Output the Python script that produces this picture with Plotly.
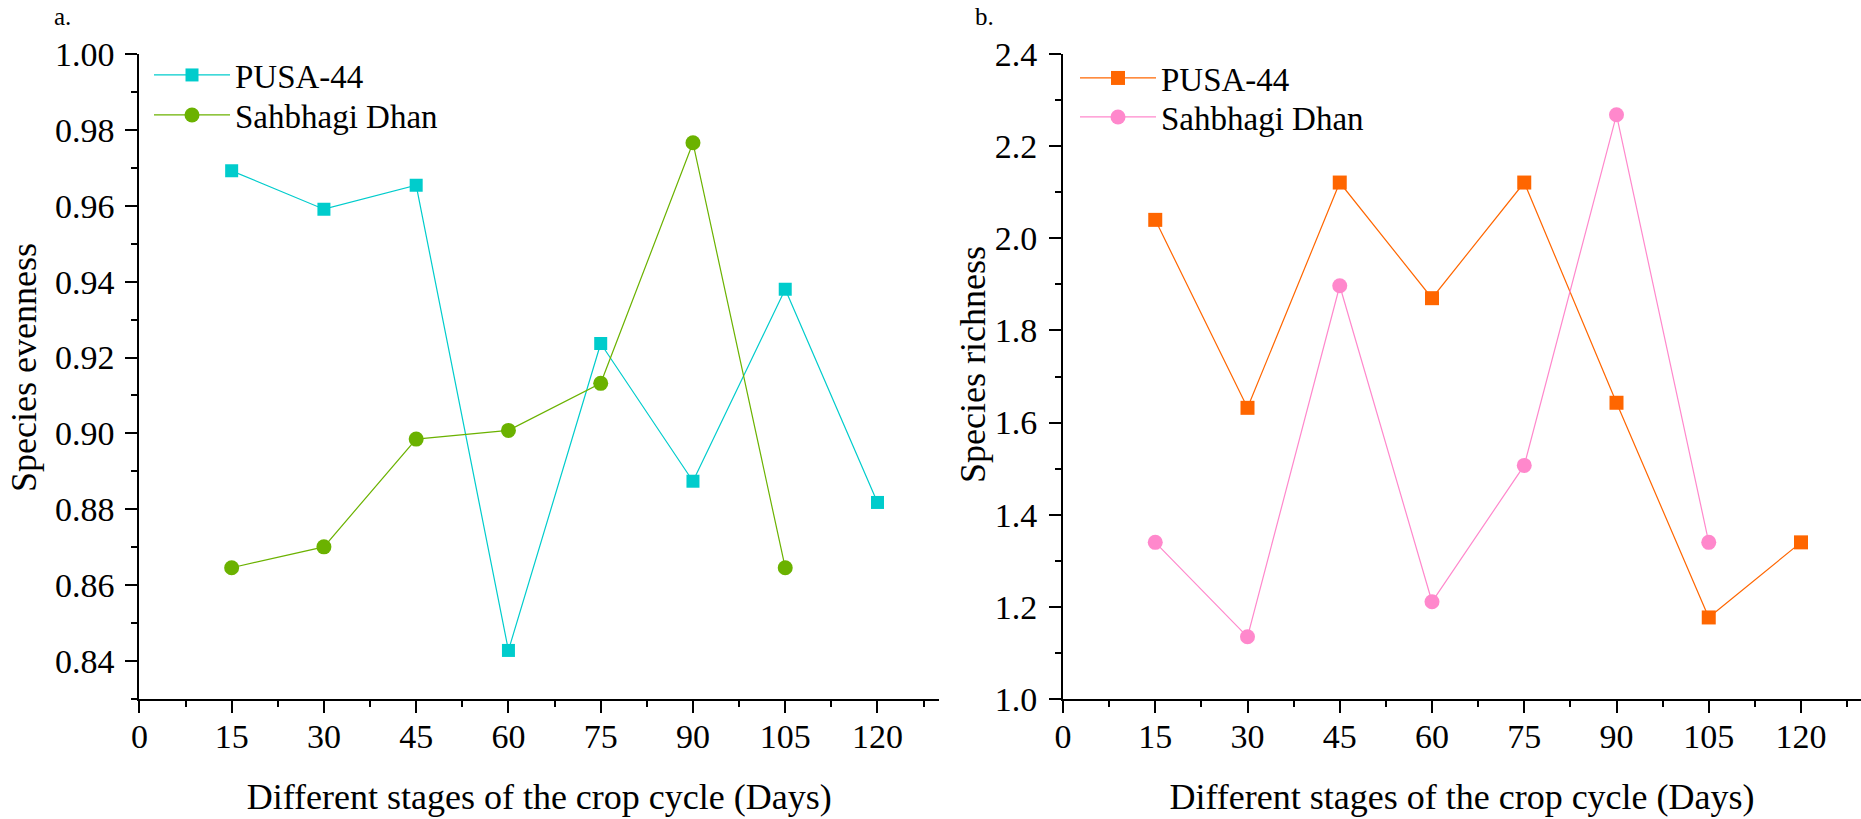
import plotly.graph_objects as go

days = [15, 30, 45, 60, 75, 90, 105, 120]
days_sd = [15, 30, 45, 60, 75, 90, 105]

evenness_pusa = [0.9692, 0.9591, 0.9654, 0.8428, 0.9237, 0.8874, 0.9380, 0.8818]
evenness_sd = [0.8646, 0.8701, 0.8985, 0.9008, 0.9132, 0.9766, 0.8646]

richness_pusa = [2.04, 1.632, 2.121, 1.870, 2.121, 1.643, 1.177, 1.340]
richness_sd = [1.34, 1.135, 1.897, 1.211, 1.507, 2.268, 1.34]

x_ticks = [0, 15, 30, 45, 60, 75, 90, 105, 120]

FONT = "Liberation Serif, Times New Roman, serif"
W, H = 1861, 819

C_CYAN = "#00CCCC"
C_GREEN = "#6BB200"
C_ORANGE = "#FF6600"
C_PINK = "#FF88CC"

fig = go.Figure()

fig.add_trace(go.Scatter(x=days, y=evenness_pusa, name="PUSA-44", mode="lines+markers",
                         line=dict(color=C_CYAN, width=1.2),
                         marker=dict(symbol="square", size=13, color=C_CYAN),
                         xaxis="x", yaxis="y", legend="legend"))
fig.add_trace(go.Scatter(x=days_sd, y=evenness_sd, name="Sahbhagi Dhan", mode="lines+markers",
                         line=dict(color=C_GREEN, width=1.2),
                         marker=dict(symbol="circle", size=15, color=C_GREEN),
                         xaxis="x", yaxis="y", legend="legend2"))
fig.add_trace(go.Scatter(x=days, y=richness_pusa, name="PUSA-44", mode="lines+markers",
                         line=dict(color=C_ORANGE, width=1.2),
                         marker=dict(symbol="square", size=14, color=C_ORANGE),
                         xaxis="x2", yaxis="y2", legend="legend3"))
fig.add_trace(go.Scatter(x=days_sd, y=richness_sd, name="Sahbhagi Dhan", mode="lines+markers",
                         line=dict(color=C_PINK, width=1.2),
                         marker=dict(symbol="circle", size=15, color=C_PINK),
                         xaxis="x2", yaxis="y2", legend="legend4"))

top_px, bot_px = 54, 699
ydom = [(H - bot_px) / H, (H - top_px) / H]

common_axis = dict(
    showline=True, linecolor="black", linewidth=2, mirror=False,
    ticks="outside", ticklen=12, tickwidth=2, tickcolor="black",
    showgrid=False, zeroline=False, automargin=False,
    tickfont=dict(family=FONT, size=34, color="black"),
)

xaxis_common = dict(common_axis, tickmode="array", tickvals=x_ticks, ticklabelstandoff=-6,
                    minor=dict(ticks="outside", ticklen=6, tickwidth=2, tickcolor="black", dtick=7.5, tick0=0),
                    title=dict(text="Different stages of the crop cycle (Days)",
                               font=dict(family=FONT, size=36, color="black"), standoff=30))


def legend_at(x_px, top_px_):
    return dict(x=x_px / W, y=1 - top_px_ / H, xanchor="left", yanchor="top",
                font=dict(family=FONT, size=33, color="black"), bgcolor="rgba(0,0,0,0)",
                itemwidth=76)


def paper_text(text, x_px, y_px, size, angle=0, xanchor="center"):
    return dict(text=text, x=x_px / W, y=1 - y_px / H, xref="paper", yref="paper",
                xanchor=xanchor, yanchor="middle", textangle=angle, showarrow=False,
                font=dict(family=FONT, size=size, color="black"))


fig.update_layout(
    width=W, height=H,
    margin=dict(l=0, r=0, t=0, b=0, autoexpand=False),
    paper_bgcolor="white", plot_bgcolor="white",
    font=dict(family=FONT, color="black"),
    showlegend=True,
    xaxis=dict(xaxis_common, domain=[139.4 / W, 939 / W], range=[0, 130], anchor="y"),
    yaxis=dict(common_axis, domain=ydom, range=[0.83, 1.00], anchor="x",
               dtick=0.02, tick0=0, tickformat=".2f", ticklabelstandoff=4,
               minor=dict(ticks="outside", ticklen=6, tickwidth=2, tickcolor="black", dtick=0.01, tick0=0)),
    xaxis2=dict(xaxis_common, domain=[1063 / W, 1.0], range=[0, (W - 1063) / 6.15], anchor="y2"),
    yaxis2=dict(common_axis, domain=ydom, range=[1.0, 2.4], anchor="x2",
                dtick=0.2, tick0=0, tickformat=".1f", ticklabelstandoff=5,
                minor=dict(ticks="outside", ticklen=6, tickwidth=2, tickcolor="black", dtick=0.1, tick0=0)),
    legend=legend_at(149, 47),
    legend2=legend_at(149, 87),
    legend3=legend_at(1075, 50),
    legend4=legend_at(1075, 89),
    annotations=[
        paper_text("a.", 52, 16, 25, xanchor="left"),
        paper_text("b.", 973, 16, 25, xanchor="left"),
        paper_text("Species evenness", 24, 368, 36, angle=-90),
        paper_text("Species richness", 973, 364, 36, angle=-90),
    ],
)

fig.write_html("out.html")
